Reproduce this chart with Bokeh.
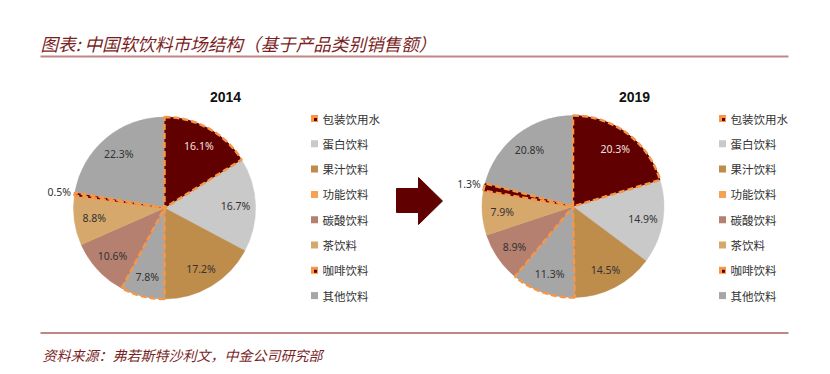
import math
from bokeh.plotting import figure
from bokeh.models import Range1d, ColumnDataSource
from bokeh.core.properties import value
from bokeh.embed import file_html
from bokeh.resources import INLINE

# ---------------- data ----------------
categories = ["包装饮用水", "蛋白饮料", "果汁饮料", "功能饮料", "碳酸饮料", "茶饮料", "咖啡饮料", "其他饮料"]
share_2014 = [16.1, 16.7, 17.2, 7.8, 10.6, 8.8, 0.5, 22.3]
share_2019 = [20.3, 14.9, 14.5, 11.3, 8.9, 7.9, 1.3, 20.8]
years = ["2014", "2019"]
title_text = "图表: 中国软饮料市场结构（基于产品类别销售额）"
source_text = "资料来源：弗若斯特沙利文，中金公司研究部"

# ---------------- styles ----------------
fill_colors = ["#600000", "#C9C9C9", "#BE8C4B", "#A6A6A6", "#B5806F", "#D7A86B", "#600000", "#A6A6A6"]
legend_colors = ["#F79646", "#C9C9C9", "#BE8C4B", "#F5A254", "#B5806F", "#D7A86B", "#F79646", "#A6A6A6"]
highlight = [True, False, False, True, False, False, True, False]
label_colors = ["#F2E0E0", "#333333", "#333333", "#333333", "#333333", "#333333", "#333333", "#333333"]
DARK_RED = "#7B1F1F"
RULE = "#C08585"
CJK = "Noto Sans CJK SC"

W, H = 822, 366
p = figure(width=W, height=H, output_backend="svg", toolbar_location=None,
           x_range=Range1d(0, W), y_range=Range1d(374 - H, 374),
           min_border=0)
p.axis.visible = False
p.grid.visible = False
p.outline_line_color = None
p.background_fill_color = "white"


def Y(y):
    return 374 - y


# title + rules
p.text(x=[40], y=[Y(43)], text=[title_text], text_font=value(CJK), text_font_size="17.6px",
       text_font_style="italic", text_color=DARK_RED, text_baseline="middle", text_align="left")
p.line(x=[40, 788], y=[Y(56), Y(56)], line_color=RULE, line_width=2)
p.line(x=[40, 788], y=[Y(332.5), Y(332.5)], line_color=RULE, line_width=2)
p.text(x=[42], y=[Y(354.5)], text=[source_text], text_font=value(CJK), text_font_size="14px",
       text_font_style="italic", text_color=DARK_RED, text_baseline="middle", text_align="left")

R = 91
centers = [(164, 207.5), (572.5, 206)]
title_pos = [(225, 96.5), (634, 96.5)]
legend_x = [314, 722]


def draw_pie(vals, cx, cy):
    total = 100.0
    cum = 0.0
    starts, ends, mids = [], [], []
    for v in vals:
        a0 = cum / total
        cum += v
        a1 = cum / total
        starts.append(math.pi / 2 - a0 * 2 * math.pi)
        ends.append(math.pi / 2 - a1 * 2 * math.pi)
        mids.append((a0 + a1) / 2 * 2 * math.pi)
    src = ColumnDataSource(dict(x=[cx] * len(vals), y=[Y(cy)] * len(vals),
                                s=starts, e=ends, c=fill_colors))
    p.wedge(x="x", y="y", radius=R, start_angle="s", end_angle="e", direction="clock",
            fill_color="c", line_color="c", line_width=0.5, source=src)
    hi = [i for i in range(len(vals)) if highlight[i]]
    hsrc = ColumnDataSource(dict(x=[cx] * len(hi), y=[Y(cy)] * len(hi),
                                 s=[starts[i] for i in hi], e=[ends[i] for i in hi],
                                 c=[fill_colors[i] for i in hi]))
    p.wedge(x="x", y="y", radius=R, start_angle="s", end_angle="e", direction="clock",
            fill_color="c", line_color="#F79646", line_width=2.5, line_dash="6 3", source=hsrc)
    lx, ly, lt, lc = [], [], [], []
    for i, v in enumerate(vals):
        f = 0.78 if v >= 3 else 1.17
        lx.append(cx + f * R * math.sin(mids[i]))
        ly.append(Y(cy - f * R * math.cos(mids[i])))
        lt.append(f"{v:.1f}%")
        lc.append(label_colors[i])
    p.text(x=lx, y=ly, text=lt, text_color=lc, text_font=value("Noto Sans"), text_font_size="10.5px",
           text_align="center", text_baseline="middle")


def draw_legend(x0):
    rows = [118 + i * 25.3 for i in range(len(categories))]
    p.rect(x=[x0] * len(rows), y=[Y(r) for r in rows], width=7, height=7,
           fill_color=legend_colors, line_color=None)
    idx = [i for i in range(len(categories)) if highlight[i] and fill_colors[i] == "#600000"]
    p.rect(x=[x0 + 1 for _ in idx], y=[Y(rows[i]) - 1 for i in idx], width=3, height=3,
           fill_color="#600000", line_color=None)
    p.text(x=[x0 + 8] * len(rows), y=[Y(r) for r in rows], text=categories,
           text_font=value(CJK), text_font_size="11.5px", text_color="#333333",
           text_align="left", text_baseline="middle")


for k, vals in enumerate([share_2014, share_2019]):
    cx, cy = centers[k]
    draw_pie(vals, cx, cy)
    draw_legend(legend_x[k])
    tx, ty = title_pos[k]
    p.text(x=[tx], y=[Y(ty)], text=[years[k]], text_font=value("Liberation Sans"),
           text_font_size="14px", text_font_style="bold", text_color="#111111",
           text_align="center", text_baseline="middle")

# arrow between pies
ax = [396, 418, 418, 442, 418, 418, 396]
ay = [188, 188, 177, 200.5, 224, 212, 212]
p.patch(x=ax, y=[Y(v) for v in ay], fill_color="#600000", line_color="#600000")

open("out.html", "w").write(file_html(p, INLINE))
